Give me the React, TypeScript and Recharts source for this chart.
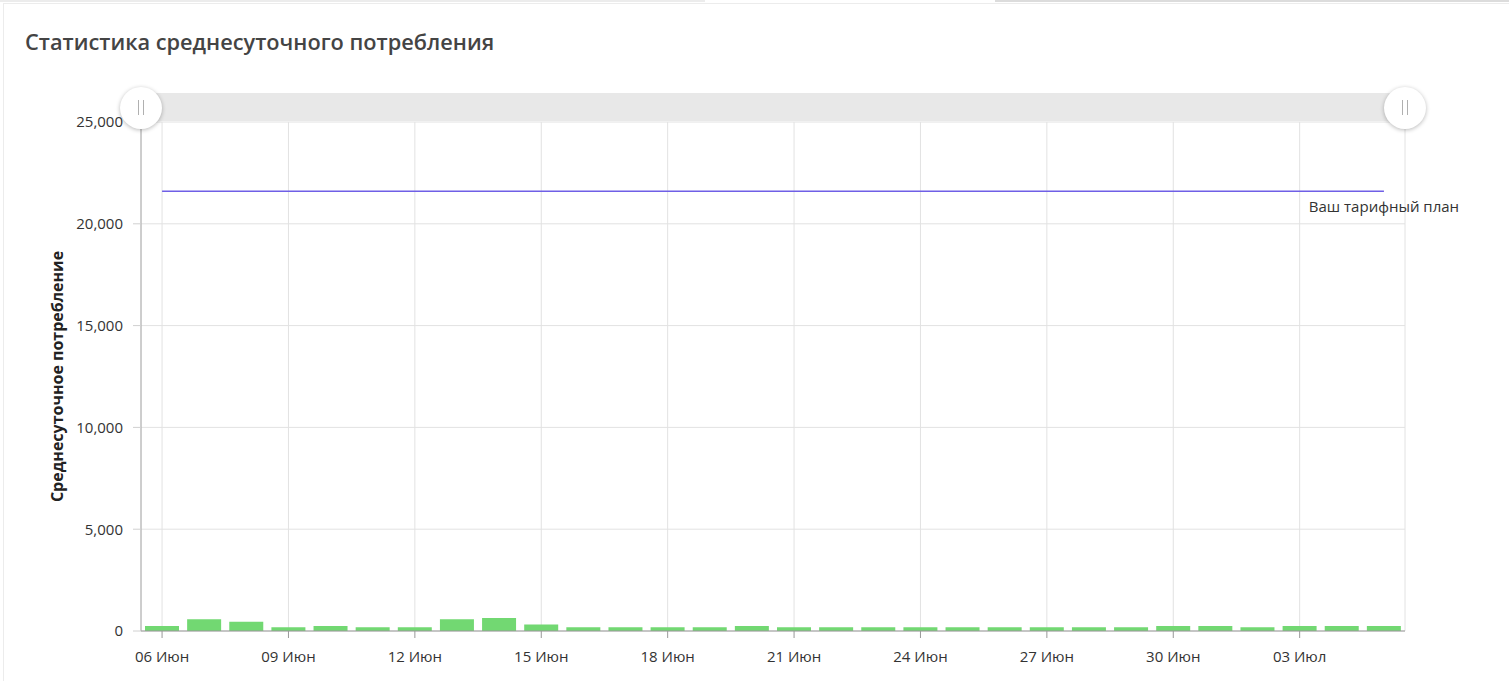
import React from 'react';
import { ComposedChart, Bar, Line, XAxis, YAxis, CartesianGrid } from 'recharts';

const dates = [
  '06 Июн', '07 Июн', '08 Июн', '09 Июн', '10 Июн', '11 Июн', '12 Июн', '13 Июн', '14 Июн', '15 Июн',
  '16 Июн', '17 Июн', '18 Июн', '19 Июн', '20 Июн', '21 Июн', '22 Июн', '23 Июн', '24 Июн', '25 Июн',
  '26 Июн', '27 Июн', '28 Июн', '29 Июн', '30 Июн', '01 Июл', '02 Июл', '03 Июл', '04 Июл', '05 Июл',
];
const consumption = [
  250, 580, 450, 190, 250, 190, 190, 580, 640, 320,
  190, 190, 190, 190, 250, 190, 190, 190, 190, 190,
  190, 190, 190, 190, 250, 250, 190, 250, 250, 250,
];
const planValue = 21600;
const xTicks = ['06 Июн', '09 Июн', '12 Июн', '15 Июн', '18 Июн', '21 Июн', '24 Июн', '27 Июн', '30 Июн', '03 Июл'];
const yTicks = [0, 5000, 10000, 15000, 20000, 25000];

const title = 'Статистика среднесуточного потребления';
const yLabel = 'Среднесуточное потребление';
const planLabel = 'Ваш тарифный план';

const data = dates.map((d, i) => ({ date: d, value: consumption[i], plan: planValue }));

const FONT = '"Open Sans", sans-serif';

const fmt = (v: number) => v.toLocaleString('en-US');

const PlanLabel = (props: any) => {
  const { x, y, index } = props;
  if (index !== dates.length - 1) return null;
  return (
    <text x={x} y={y + 21} textAnchor="middle" fontSize={15} fill="#333" fontFamily={FONT}>
      {planLabel}
    </text>
  );
};

const YLabel = (props: any) => {
  const vb = props.viewBox || {};
  const cx = 57;
  const cy = (vb.y || 0) + (vb.height || 0) / 2;
  return (
    <text
      x={cx}
      y={cy}
      transform={`rotate(-90, ${cx}, ${cy})`}
      textAnchor="middle"
      dominantBaseline="central"
      fontSize={16}
      fontWeight={700}
      fill="#222"
      fontFamily={FONT}
    >
      {yLabel}
    </text>
  );
};

const Handle = ({ cx, cy }: { cx: number; cy: number }) => (
  <div
    style={{
      position: 'absolute',
      left: cx - 21,
      top: cy - 21,
      width: 42,
      height: 42,
      borderRadius: '50%',
      background: '#fff',
      boxShadow: '0 1px 4px rgba(0,0,0,0.28)',
    }}
  >
    <div style={{ position: 'absolute', left: 18, top: 13, width: 1, height: 15, background: '#b0b0b0' }} />
    <div style={{ position: 'absolute', left: 23, top: 13, width: 1, height: 15, background: '#b0b0b0' }} />
  </div>
);

export default function App() {
  return (
    <div
      style={{
        position: 'absolute',
        left: 0,
        top: 0,
        width: 1509,
        height: 681,
        background: '#fff',
        overflow: 'hidden',
        fontFamily: FONT,
      }}
    >
      <div style={{ position: 'absolute', left: 0, top: 0, width: 705, height: 2, background: '#ececec' }} />
      <div style={{ position: 'absolute', left: 995, top: 0, width: 514, height: 2, background: '#dcdcdc' }} />
      <div style={{ position: 'absolute', left: 3, top: 3, width: 1510, height: 700, border: '1px solid #ececec' }} />
      <div
        style={{
          position: 'absolute',
          left: 25,
          top: 27,
          fontSize: 21.75,
          fontWeight: 600,
          color: '#444',
          lineHeight: '30px',
          whiteSpace: 'nowrap',
        }}
      >
        {title}
      </div>
      <div style={{ position: 'absolute', left: 0, top: 0 }}>
        <ComposedChart
          width={1509}
          height={681}
          data={data}
          margin={{ top: 122, right: 104, bottom: 20, left: 0 }}
        >
          <CartesianGrid stroke="#e2e2e2" />
          <XAxis
            dataKey="date"
            ticks={xTicks}
            interval={0}
            height={30}
            tickSize={7}
            tickMargin={13}
            axisLine={{ stroke: '#999' }}
            tickLine={{ stroke: '#999' }}
            tick={{ fontSize: 15, fill: '#333', fontFamily: FONT }}
          />
          <YAxis
            width={141}
            domain={[0, 25000]}
            ticks={yTicks}
            tickFormatter={fmt}
            tickSize={8}
            tickMargin={10}
            axisLine={{ stroke: '#aaa' }}
            tickLine={{ stroke: '#d0d0d0' }}
            tick={{ fontSize: 15, fill: '#333', fontFamily: FONT }}
            label={<YLabel />}
          />
          <Bar dataKey="value" fill="#72d872" barSize={34} isAnimationActive={false} />
          <Line
            dataKey="plan"
            type="linear"
            stroke="#6f5fe6"
            strokeWidth={1.5}
            dot={false}
            activeDot={false}
            isAnimationActive={false}
            label={<PlanLabel />}
          />
        </ComposedChart>
      </div>
      <div style={{ position: 'absolute', left: 141, top: 93, width: 1264, height: 28, background: '#e8e8e8' }} />
      <Handle cx={141} cy={108} />
      <Handle cx={1405} cy={108} />
    </div>
  );
}
